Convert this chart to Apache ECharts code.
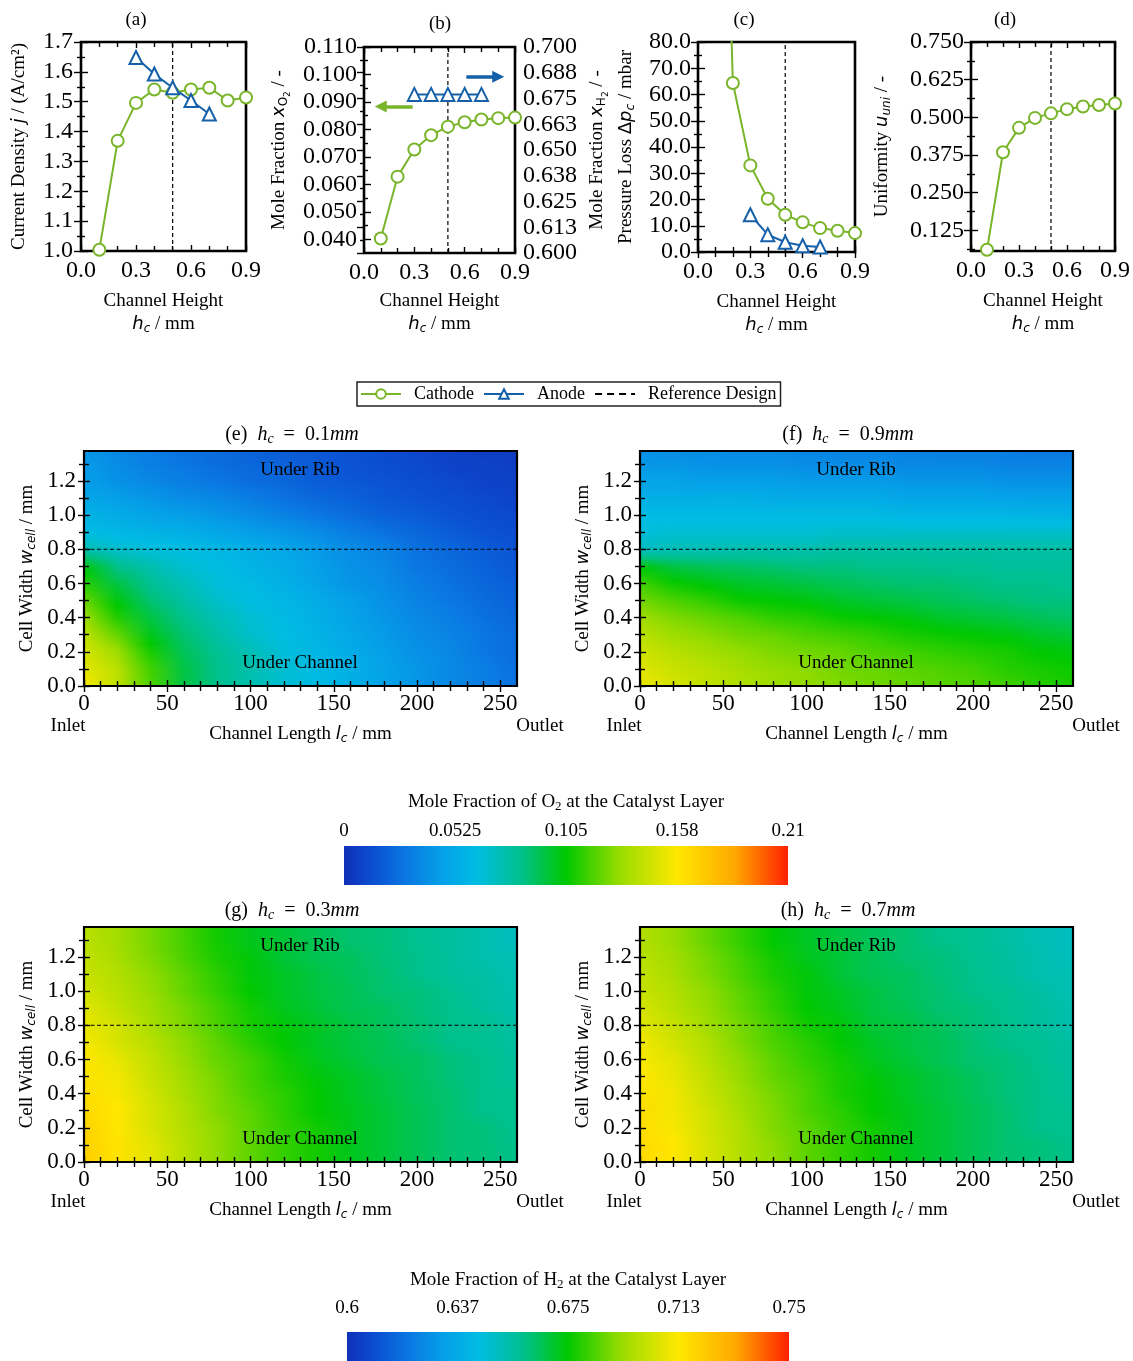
<!DOCTYPE html>
<html>
<head>
<meta charset="utf-8">
<script src="https://cdn.jsdelivr.net/npm/echarts@6/dist/echarts.min.js"></script>
<style>
html, body { margin: 0; padding: 0; background: #fff; }
#chart { width: 1133px; height: 1361px; }
</style>
</head>
<body>
<div id="chart"></div>
<script>
// ---------- parameter sweep over the cathode / anode channel height ----------
const channelHeightCathode = [0.1, 0.2, 0.3, 0.4, 0.5, 0.6, 0.7, 0.8, 0.9];
const channelHeightAnode = [0.3, 0.4, 0.5, 0.6, 0.7];
const referenceHeight = 0.5;

const currentDensityCathode = [1.004, 1.369, 1.496, 1.541, 1.530, 1.541, 1.547, 1.504, 1.514];
const currentDensityAnode = [1.648, 1.593, 1.547, 1.504, 1.459];
const moleFractionO2Cathode = [0.0403, 0.0628, 0.0727, 0.0779, 0.0810, 0.0826, 0.0836, 0.0841, 0.0843];
const moleFractionH2Anode = [0.677, 0.677, 0.677, 0.677, 0.677];
const pressureLossCathode = [280, 64.4, 33.0, 20.3, 14.2, 11.3, 9.1, 8.1, 7.2];
const pressureLossAnode = [14.2, 6.6, 3.7, 2.4, 1.9];
const uniformityCathode = [0.060, 0.384, 0.465, 0.498, 0.513, 0.527, 0.536, 0.541, 0.546];

// ---------- tick values and labels ----------
const heightTicks = [0, 0.3, 0.6, 0.9];
const heightTickLabels = ['0.0', '0.3', '0.6', '0.9'];
const heightMinorTicks = [0.1, 0.2, 0.4, 0.5, 0.7, 0.8];
const currentTicks = [1.0, 1.1, 1.2, 1.3, 1.4, 1.5, 1.6, 1.7];
const currentTickLabels = ['1.0', '1.1', '1.2', '1.3', '1.4', '1.5', '1.6', '1.7'];
const currentMinorTicks = [1.05, 1.15, 1.25, 1.35, 1.45, 1.55, 1.65];
const o2Ticks = [0.04, 0.05, 0.06, 0.07, 0.08, 0.09, 0.10, 0.11];
const o2TickLabels = ['0.040', '0.050', '0.060', '0.070', '0.080', '0.090', '0.100', '0.110'];
const o2MinorTicks = [0.045, 0.055, 0.065, 0.075, 0.085, 0.095, 0.105];
const h2Ticks = [0.6, 0.6125, 0.625, 0.6375, 0.65, 0.6625, 0.675, 0.6875, 0.7];
const h2TickLabels = ['0.600', '0.613', '0.625', '0.638', '0.650', '0.663', '0.675', '0.688', '0.700'];
const h2MinorTicks = [0.60625, 0.61875, 0.63125, 0.64375, 0.65625, 0.66875, 0.68125, 0.69375];
const pressureTicks = [0, 10, 20, 30, 40, 50, 60, 70, 80];
const pressureTickLabels = ['0.0', '10.0', '20.0', '30.0', '40.0', '50.0', '60.0', '70.0', '80.0'];
const pressureMinorTicks = [5, 15, 25, 35, 45, 55, 65, 75];
const uniformityTicks = [0.125, 0.25, 0.375, 0.5, 0.625, 0.75];
const uniformityTickLabels = ['0.125', '0.250', '0.375', '0.500', '0.625', '0.750'];
const uniformityMinorTicks = [0.0625, 0.1875, 0.3125, 0.4375, 0.5625, 0.6875];

const lengthTicks = [0, 50, 100, 150, 200, 250];
const lengthTickLabels = ['0', '50', '100', '150', '200', '250'];
const lengthMinorTicks = [10, 20, 30, 40, 60, 70, 80, 90, 110, 120, 130, 140, 160, 170, 180, 190, 210, 220, 230, 240];
const widthTicks = [0, 0.2, 0.4, 0.6, 0.8, 1.0, 1.2];
const widthTickLabels = ['0.0', '0.2', '0.4', '0.6', '0.8', '1.0', '1.2'];
const widthMinorTicks = [0.1, 0.3, 0.5, 0.7, 0.9, 1.1, 1.3];
const ribEdgeWidth = 0.8;

const o2BarTicks = [0, 0.0525, 0.105, 0.1575, 0.21];
const o2BarLabels = ['0', '0.0525', '0.105', '0.158', '0.21'];
const h2BarTicks = [0.6, 0.6375, 0.675, 0.7125, 0.75];
const h2BarLabels = ['0.6', '0.637', '0.675', '0.713', '0.75'];

// ---------- catalyst-layer fields: rows = cell width, columns = channel length ----------
const channelLengthNodes = [0, 20, 40, 60, 80, 100, 120, 140, 160, 180, 200, 220, 240, 260];
const cellWidthNodes = [0, 0.1, 0.2, 0.3, 0.4, 0.5, 0.6, 0.7, 0.8, 0.9, 1.0, 1.1, 1.2, 1.3, 1.375];

const o2FieldHc01 = [
  [0.155, 0.141, 0.118, 0.095, 0.084, 0.076, 0.067, 0.061, 0.055, 0.048, 0.042, 0.036, 0.032, 0.027],
  [0.151, 0.139, 0.116, 0.095, 0.084, 0.076, 0.067, 0.061, 0.055, 0.048, 0.042, 0.036, 0.032, 0.027],
  [0.147, 0.132, 0.109, 0.092, 0.082, 0.074, 0.065, 0.059, 0.053, 0.046, 0.040, 0.036, 0.029, 0.025],
  [0.141, 0.122, 0.101, 0.088, 0.078, 0.069, 0.063, 0.057, 0.050, 0.044, 0.038, 0.034, 0.029, 0.025],
  [0.132, 0.111, 0.095, 0.084, 0.074, 0.067, 0.061, 0.055, 0.048, 0.042, 0.036, 0.032, 0.027, 0.023],
  [0.122, 0.103, 0.088, 0.078, 0.069, 0.063, 0.059, 0.053, 0.046, 0.040, 0.034, 0.029, 0.025, 0.021],
  [0.111, 0.095, 0.082, 0.074, 0.065, 0.061, 0.055, 0.048, 0.042, 0.038, 0.032, 0.027, 0.023, 0.019],
  [0.103, 0.084, 0.076, 0.067, 0.063, 0.057, 0.053, 0.046, 0.040, 0.036, 0.029, 0.025, 0.021, 0.017],
  [0.076, 0.069, 0.065, 0.063, 0.059, 0.055, 0.050, 0.044, 0.038, 0.034, 0.027, 0.023, 0.019, 0.015],
  [0.063, 0.059, 0.057, 0.055, 0.050, 0.046, 0.042, 0.038, 0.032, 0.027, 0.023, 0.019, 0.015, 0.013],
  [0.057, 0.053, 0.048, 0.046, 0.042, 0.038, 0.034, 0.029, 0.025, 0.021, 0.019, 0.015, 0.013, 0.011],
  [0.050, 0.046, 0.042, 0.038, 0.036, 0.032, 0.027, 0.023, 0.021, 0.017, 0.015, 0.013, 0.011, 0.008],
  [0.046, 0.040, 0.036, 0.032, 0.029, 0.025, 0.023, 0.019, 0.017, 0.015, 0.013, 0.011, 0.008, 0.008],
  [0.044, 0.038, 0.032, 0.029, 0.025, 0.023, 0.021, 0.017, 0.015, 0.013, 0.011, 0.008, 0.008, 0.006],
  [0.042, 0.036, 0.032, 0.027, 0.025, 0.021, 0.019, 0.017, 0.015, 0.013, 0.011, 0.008, 0.006, 0.006]
];

const o2FieldHc09 = [
  [0.153, 0.147, 0.141, 0.137, 0.132, 0.130, 0.126, 0.124, 0.122, 0.120, 0.118, 0.116, 0.111, 0.109],
  [0.149, 0.143, 0.139, 0.134, 0.130, 0.128, 0.124, 0.122, 0.120, 0.118, 0.116, 0.111, 0.109, 0.107],
  [0.145, 0.139, 0.134, 0.130, 0.126, 0.124, 0.122, 0.118, 0.116, 0.113, 0.111, 0.109, 0.105, 0.103],
  [0.139, 0.132, 0.128, 0.124, 0.122, 0.118, 0.116, 0.113, 0.109, 0.107, 0.105, 0.103, 0.099, 0.097],
  [0.132, 0.126, 0.122, 0.118, 0.113, 0.111, 0.107, 0.105, 0.103, 0.099, 0.097, 0.095, 0.092, 0.090],
  [0.124, 0.118, 0.113, 0.107, 0.105, 0.103, 0.099, 0.097, 0.095, 0.092, 0.090, 0.088, 0.086, 0.086],
  [0.116, 0.107, 0.103, 0.099, 0.097, 0.095, 0.092, 0.090, 0.088, 0.088, 0.086, 0.084, 0.084, 0.082],
  [0.103, 0.095, 0.092, 0.090, 0.088, 0.086, 0.086, 0.084, 0.084, 0.082, 0.082, 0.080, 0.080, 0.080],
  [0.071, 0.074, 0.074, 0.076, 0.076, 0.076, 0.078, 0.078, 0.078, 0.078, 0.078, 0.078, 0.078, 0.078],
  [0.065, 0.067, 0.067, 0.067, 0.067, 0.067, 0.069, 0.069, 0.069, 0.069, 0.069, 0.069, 0.069, 0.069],
  [0.061, 0.061, 0.061, 0.061, 0.061, 0.061, 0.061, 0.061, 0.059, 0.059, 0.059, 0.059, 0.057, 0.057],
  [0.055, 0.055, 0.055, 0.055, 0.053, 0.053, 0.053, 0.053, 0.050, 0.050, 0.050, 0.048, 0.048, 0.048],
  [0.048, 0.048, 0.046, 0.046, 0.046, 0.044, 0.044, 0.044, 0.042, 0.042, 0.042, 0.040, 0.040, 0.040],
  [0.042, 0.042, 0.040, 0.040, 0.040, 0.038, 0.038, 0.038, 0.036, 0.036, 0.036, 0.034, 0.034, 0.034],
  [0.040, 0.038, 0.038, 0.036, 0.036, 0.036, 0.034, 0.034, 0.034, 0.032, 0.032, 0.032, 0.029, 0.029]
];

const h2FieldHc03 = [
  [0.720, 0.714, 0.707, 0.699, 0.692, 0.686, 0.681, 0.677, 0.672, 0.669, 0.666, 0.663, 0.662, 0.660],
  [0.720, 0.714, 0.707, 0.699, 0.692, 0.686, 0.681, 0.677, 0.672, 0.669, 0.666, 0.663, 0.662, 0.660],
  [0.719, 0.713, 0.705, 0.698, 0.692, 0.686, 0.681, 0.677, 0.672, 0.669, 0.666, 0.663, 0.662, 0.659],
  [0.717, 0.713, 0.705, 0.698, 0.690, 0.686, 0.680, 0.675, 0.672, 0.669, 0.666, 0.663, 0.660, 0.659],
  [0.716, 0.711, 0.704, 0.696, 0.690, 0.684, 0.680, 0.675, 0.671, 0.668, 0.665, 0.663, 0.660, 0.659],
  [0.714, 0.710, 0.702, 0.695, 0.689, 0.683, 0.678, 0.674, 0.671, 0.668, 0.665, 0.662, 0.660, 0.657],
  [0.713, 0.708, 0.701, 0.693, 0.687, 0.683, 0.677, 0.672, 0.669, 0.666, 0.665, 0.662, 0.660, 0.657],
  [0.711, 0.705, 0.699, 0.692, 0.686, 0.680, 0.675, 0.671, 0.668, 0.666, 0.663, 0.660, 0.659, 0.656],
  [0.708, 0.704, 0.696, 0.690, 0.684, 0.678, 0.674, 0.671, 0.668, 0.665, 0.663, 0.660, 0.659, 0.656],
  [0.707, 0.701, 0.695, 0.689, 0.683, 0.677, 0.672, 0.669, 0.666, 0.665, 0.662, 0.660, 0.657, 0.654],
  [0.704, 0.699, 0.693, 0.687, 0.681, 0.675, 0.671, 0.668, 0.666, 0.663, 0.662, 0.659, 0.656, 0.654],
  [0.702, 0.698, 0.692, 0.686, 0.680, 0.674, 0.671, 0.668, 0.665, 0.663, 0.660, 0.657, 0.656, 0.653],
  [0.701, 0.696, 0.690, 0.684, 0.678, 0.674, 0.669, 0.666, 0.665, 0.662, 0.660, 0.657, 0.654, 0.653],
  [0.699, 0.695, 0.689, 0.683, 0.677, 0.672, 0.669, 0.666, 0.663, 0.662, 0.659, 0.657, 0.654, 0.651],
  [0.699, 0.695, 0.689, 0.683, 0.677, 0.672, 0.669, 0.666, 0.663, 0.662, 0.659, 0.657, 0.654, 0.651]
];

const h2FieldHc07 = [
  [0.717, 0.713, 0.705, 0.698, 0.692, 0.686, 0.681, 0.677, 0.672, 0.669, 0.666, 0.663, 0.662, 0.660],
  [0.717, 0.713, 0.705, 0.698, 0.692, 0.686, 0.681, 0.677, 0.672, 0.669, 0.666, 0.663, 0.662, 0.660],
  [0.716, 0.711, 0.704, 0.698, 0.690, 0.686, 0.681, 0.677, 0.672, 0.669, 0.666, 0.663, 0.660, 0.659],
  [0.716, 0.710, 0.704, 0.696, 0.690, 0.684, 0.680, 0.675, 0.672, 0.669, 0.666, 0.663, 0.660, 0.659],
  [0.714, 0.710, 0.702, 0.695, 0.689, 0.684, 0.678, 0.675, 0.671, 0.668, 0.665, 0.662, 0.660, 0.657],
  [0.713, 0.708, 0.701, 0.693, 0.687, 0.683, 0.678, 0.674, 0.671, 0.668, 0.665, 0.662, 0.660, 0.657],
  [0.711, 0.707, 0.699, 0.692, 0.686, 0.681, 0.677, 0.672, 0.669, 0.666, 0.663, 0.662, 0.659, 0.656],
  [0.710, 0.704, 0.698, 0.690, 0.684, 0.680, 0.675, 0.671, 0.668, 0.666, 0.663, 0.660, 0.659, 0.656],
  [0.707, 0.702, 0.695, 0.689, 0.683, 0.677, 0.674, 0.669, 0.668, 0.665, 0.662, 0.660, 0.657, 0.654],
  [0.705, 0.699, 0.693, 0.687, 0.681, 0.675, 0.672, 0.668, 0.666, 0.663, 0.662, 0.659, 0.657, 0.654],
  [0.702, 0.698, 0.692, 0.686, 0.680, 0.674, 0.671, 0.668, 0.665, 0.663, 0.660, 0.659, 0.656, 0.653],
  [0.701, 0.696, 0.690, 0.684, 0.678, 0.674, 0.669, 0.666, 0.665, 0.662, 0.660, 0.657, 0.654, 0.653],
  [0.699, 0.695, 0.689, 0.683, 0.677, 0.672, 0.669, 0.666, 0.663, 0.662, 0.659, 0.657, 0.654, 0.651],
  [0.698, 0.693, 0.687, 0.681, 0.675, 0.671, 0.668, 0.665, 0.663, 0.660, 0.659, 0.656, 0.653, 0.651],
  [0.698, 0.693, 0.687, 0.681, 0.675, 0.671, 0.668, 0.665, 0.663, 0.660, 0.659, 0.656, 0.653, 0.651]
];

// ---------- styling ----------
const SERIF = '"Liberation Serif", "Times New Roman", serif';
const SANS = '"DejaVu Sans", sans-serif';
const GREEN = '#79b52b';
const BLUE = '#1560a8';
const SHADE_STEPS = 10;

// rainbow colour scale shared by both field legends (offset -> colour)
const rainbowStops = [
  [0.00, '#1030b8'], [0.06, '#0b4cd0'], [0.14, '#0a78e2'], [0.22, '#05a0e8'],
  [0.30, '#00bde2'], [0.40, '#00c08c'], [0.50, '#00c800'], [0.62, '#98dc00'],
  [0.75, '#ffe800'], [0.88, '#ffa800'], [1.00, '#ff2000']
];
const rainbowRgb = rainbowStops.map(([o, h]) => [o, parseInt(h.slice(1, 3), 16), parseInt(h.slice(3, 5), 16), parseInt(h.slice(5, 7), 16)]);
function rainbow(t) {
  t = Math.max(0, Math.min(1, t));
  for (let k = 1; k < rainbowRgb.length; k++) {
    const a = rainbowRgb[k - 1], b = rainbowRgb[k];
    if (t <= b[0]) {
      const f = (t - a[0]) / (b[0] - a[0]);
      return 'rgb(' + [1, 2, 3].map(c => Math.round(a[c] + (b[c] - a[c]) * f)).join(',') + ')';
    }
  }
  const l = rainbowRgb[rainbowRgb.length - 1];
  return 'rgb(' + l[1] + ',' + l[2] + ',' + l[3] + ')';
}

const RICH = {
  t: { fontFamily: SERIF, fontSize: 19, color: '#000', lineHeight: 23 },
  i: { fontFamily: SANS, fontStyle: 'italic', fontSize: 18, color: '#000' },
  s: { fontFamily: SANS, fontStyle: 'italic', fontSize: 12, color: '#000', padding: [9, 0, 0, 0] },
  r: { fontFamily: SANS, fontSize: 12, color: '#000', padding: [9, 0, 0, 0] },
  rr: { fontFamily: SANS, fontSize: 9, color: '#000', padding: [16, 0, 0, 0] },
  g: { fontFamily: SANS, fontSize: 18, color: '#000' },
  sub: { fontFamily: SERIF, fontSize: 13, color: '#000', padding: [9, 0, 0, 0] },
  h: { fontFamily: SERIF, fontSize: 20, color: '#000' },
  m: { fontFamily: SERIF, fontStyle: 'italic', fontSize: 20, color: '#000' },
  ms: { fontFamily: SERIF, fontStyle: 'italic', fontSize: 14, color: '#000', padding: [9, 0, 0, 0] }
};

const option = {
  animation: false,
  backgroundColor: '#ffffff',
  textStyle: { fontFamily: SERIF, color: '#000' },
  grid: [], xAxis: [], yAxis: [], series: [], graphic: [],
  legend: {
    data: ['Cathode', 'Anode', { name: 'Reference Design', itemStyle: { opacity: 0 }, lineStyle: { width: 2.2, type: [7, 5] } }],
    left: 357, top: 382,
    padding: [3, 4, 3, 3],
    itemWidth: 40, itemHeight: 12, itemGap: 9,
    borderColor: '#222', borderWidth: 1.5, borderRadius: 0,
    selectedMode: false,
    textStyle: { fontFamily: SERIF, fontSize: 18, color: '#000', padding: [0, 0, 0, 8] }
  }
};

function tickAxis(gi, pos, min, max, ticks, len, extra) {
  return Object.assign({
    type: 'value', gridIndex: gi, position: pos, min: min, max: max, z: 5,
    axisLine: { show: false }, splitLine: { show: false }, minorTick: { show: false },
    axisTick: { show: true, inside: true, length: len, customValues: ticks, lineStyle: { color: '#000', width: 1.4 } },
    axisLabel: { show: false }
  }, extra || {});
}

function tickLabels(ticks, labels, size, margin) {
  return {
    show: true, customValues: ticks, margin: margin, color: '#000', fontFamily: SERIF, fontSize: size,
    formatter: function (v) {
      const k = ticks.findIndex(t => Math.abs(t - v) < 1e-9);
      return k < 0 ? '' : labels[k];
    }
  };
}

function axisName(text, gap) {
  return { name: text, nameLocation: 'middle', nameGap: gap, nameTextStyle: { rich: RICH, fontFamily: SERIF, fontSize: 19, color: '#000' } };
}

// framed plot with inward ticks on all four sides
function framedPanel(rect, frame, x, y, y2) {
  const gi = option.grid.length;
  option.grid.push({ left: rect[0], top: rect[1], width: rect[2], height: rect[3], show: true, z: 5,
    borderColor: '#000', borderWidth: frame, backgroundColor: 'rgba(0,0,0,0)' });
  const xi = option.xAxis.length;
  option.xAxis.push(tickAxis(gi, 'bottom', x.min, x.max, x.major, x.len,
    Object.assign({ axisLabel: tickLabels(x.major, x.labels, x.size, x.margin) }, axisName(x.name, x.gap))));
  option.xAxis.push(tickAxis(gi, 'bottom', x.min, x.max, x.minor, x.minorLen));
  option.xAxis.push(tickAxis(gi, 'top', x.min, x.max, x.major, x.len));
  option.xAxis.push(tickAxis(gi, 'top', x.min, x.max, x.minor, x.minorLen));
  const yi = option.yAxis.length;
  option.yAxis.push(tickAxis(gi, 'left', y.min, y.max, y.major, y.len,
    Object.assign({ axisLabel: tickLabels(y.major, y.labels, y.size, y.margin) }, axisName(y.name, y.gap), { nameRotate: 90 })));
  option.yAxis.push(tickAxis(gi, 'left', y.min, y.max, y.minor, y.minorLen));
  let yi2 = null;
  if (y2) {
    yi2 = option.yAxis.length;
    option.yAxis.push(tickAxis(gi, 'right', y2.min, y2.max, y2.major, y2.len,
      Object.assign({ axisLabel: tickLabels(y2.major, y2.labels, y2.size, y2.margin) }, axisName(y2.name, y2.gap), { nameRotate: 90 })));
    option.yAxis.push(tickAxis(gi, 'right', y2.min, y2.max, y2.minor, y2.minorLen));
  } else {
    option.yAxis.push(tickAxis(gi, 'right', y.min, y.max, y.major, y.len));
    option.yAxis.push(tickAxis(gi, 'right', y.min, y.max, y.minor, y.minorLen));
  }
  return { gi: gi, xi: xi, yi: yi, yi2: yi2 };
}

function curve(name, xs, ys, color, symbol, size, p, yIndex) {
  return {
    type: 'line', name: name, xAxisIndex: p.xi, yAxisIndex: yIndex == null ? p.yi : yIndex,
    data: xs.map((x, k) => [x, ys[k]]), symbol: symbol, symbolSize: size, showAllSymbol: true,
    clip: true, z: 6, color: color,
    lineStyle: { color: color, width: 2 },
    itemStyle: { color: color, borderColor: color, borderWidth: 2 }
  };
}

function referenceLine(p, yMin, yMax) {
  return {
    type: 'line', name: 'Reference Design', xAxisIndex: p.xi, yAxisIndex: p.yi,
    data: [[referenceHeight, yMin], [referenceHeight, yMax]], symbol: 'none', z: 4, color: '#000',
    lineStyle: { color: '#000', width: 1.2, type: [4, 3] }
  };
}

const heightAxis = {
  min: 0, max: 0.9, major: heightTicks, labels: heightTickLabels, minor: heightMinorTicks,
  len: 6, minorLen: 5, size: 24, margin: 8, gap: 39,
  name: '{t|Channel Height}\n{i|h}{s|c}{t| / mm}'
};

// (a) current density
const pA = framedPanel([81, 42, 165, 209], 2.6, heightAxis,
  { min: 1.0, max: 1.7, major: currentTicks, labels: currentTickLabels, minor: currentMinorTicks, len: 7, minorLen: 4, size: 24, margin: 8, gap: 50,
    name: '{t|Current Density }{i|j}{t| / (A/cm²)}' });
option.series.push(referenceLine(pA, 1.0, 1.7));
option.series.push(curve('Cathode', channelHeightCathode, currentDensityCathode, GREEN, 'emptyCircle', 12, pA));
option.series.push(curve('Anode', channelHeightAnode, currentDensityAnode, BLUE, 'emptyTriangle', 13, pA));

// (b) mole fractions, O2 on the left axis, H2 on the right axis
const pB = framedPanel([364, 47, 151, 206], 2.6, Object.assign({}, heightAxis, { gap: 37 }),
  { min: 0.035, max: 0.110, major: o2Ticks, labels: o2TickLabels, minor: o2MinorTicks, len: 7, minorLen: 4, size: 24, margin: 7, gap: 72,
    name: '{t|Mole Fraction }{i|x}{r|O}{rr|2}{t| / -}' },
  { min: 0.6, max: 0.7, major: h2Ticks, labels: h2TickLabels, minor: h2MinorTicks, len: 7, minorLen: 4, size: 24, margin: 8, gap: 70,
    name: '{t|Mole Fraction }{i|x}{r|H}{rr|2}{t| / -}' });
option.series.push(referenceLine(pB, 0.035, 0.110));
const o2Curve = curve('Cathode', channelHeightCathode, moleFractionO2Cathode, GREEN, 'emptyCircle', 12, pB);
o2Curve.markLine = {
  silent: true, symbol: ['none', 'triangle'], symbolSize: [12, 12], label: { show: false },
  lineStyle: { color: GREEN, width: 3.5, type: 'solid' },
  data: [[{ coord: [0.29, 0.0883] }, { coord: [0.10, 0.0883] }]]
};
option.series.push(o2Curve);
const h2Curve = curve('Anode', channelHeightAnode, moleFractionH2Anode, BLUE, 'emptyTriangle', 13, pB, pB.yi2);
h2Curve.markLine = {
  silent: true, symbol: ['none', 'triangle'], symbolSize: [12, 12], label: { show: false },
  lineStyle: { color: BLUE, width: 3.5, type: 'solid' },
  data: [[{ coord: [0.61, 0.6855] }, { coord: [0.80, 0.6855] }]]
};
option.series.push(h2Curve);

// (c) pressure loss
const pC = framedPanel([698, 42, 157, 210], 2.6, heightAxis,
  { min: 0, max: 80, major: pressureTicks, labels: pressureTickLabels, minor: pressureMinorTicks, len: 7, minorLen: 4, size: 24, margin: 7, gap: 60,
    name: '{t|Pressure Loss }{g|Δ}{i|p}{s|c}{t| / mbar}' });
option.series.push(referenceLine(pC, 0, 80));
option.series.push(curve('Cathode', channelHeightCathode, pressureLossCathode, GREEN, 'emptyCircle', 12, pC));
option.series.push(curve('Anode', channelHeightAnode, pressureLossAnode, BLUE, 'emptyTriangle', 13, pC));

// (d) uniformity
const pD = framedPanel([971, 42, 144, 209], 2.6, heightAxis,
  { min: 0.056, max: 0.75, major: uniformityTicks, labels: uniformityTickLabels, minor: uniformityMinorTicks, len: 7, minorLen: 4, size: 24, margin: 7, gap: 77,
    name: '{t|Uniformity }{i|u}{s|uni}{t| / -}' });
option.series.push(referenceLine(pD, 0.056, 0.75));
option.series.push(curve('Cathode', channelHeightCathode, uniformityCathode, GREEN, 'emptyCircle', 12, pD));

// ---------- field maps ----------
const lengthAxis = {
  min: 0, max: 260, major: lengthTicks, labels: lengthTickLabels, minor: lengthMinorTicks,
  len: 6, minorLen: 5, size: 23, margin: 6, gap: 37,
  name: '{t|Channel Length }{i|l}{s|c}{t| / mm}'
};
const widthAxis = {
  min: 0, max: 1.375, major: widthTicks, labels: widthTickLabels, minor: widthMinorTicks,
  len: 6, minorLen: 5, size: 23, margin: 8, gap: 45,
  name: '{t|Cell Width }{i|w}{s|cell}{t| / mm}'
};

// each band between two cell-width rows is shaded along the channel length
// and blended across the width in thin steps
function fieldSeries(p, rows, vmin, vmax) {
  const x0 = channelLengthNodes[0];
  const xLast = channelLengthNodes[channelLengthNodes.length - 1];
  return {
    type: 'custom', xAxisIndex: p.xi, yAxisIndex: p.yi, z: 1, silent: true, clip: true,
    data: cellWidthNodes.slice(0, -1).map(w => [x0, w]),
    encode: { x: 0, y: 1 },
    renderItem: function (params, api) {
      const i = params.dataIndex;
      const w0 = cellWidthNodes[i], w1 = cellWidthNodes[i + 1];
      const lower = rows[i], upper = rows[i + 1];
      const children = [];
      for (let j = 0; j < SHADE_STEPS; j++) {
        const f = (j + 0.5) / SHADE_STEPS;
        const a = api.coord([x0, w0 + (w1 - w0) * (j + 1) / SHADE_STEPS]);
        const b = api.coord([xLast, w0 + (w1 - w0) * j / SHADE_STEPS]);
        const stops = lower.map((v, k) => ({
          offset: (channelLengthNodes[k] - x0) / (xLast - x0),
          color: rainbow(((1 - f) * v + f * upper[k] - vmin) / (vmax - vmin))
        }));
        children.push({
          type: 'rect',
          shape: { x: a[0], y: a[1] - 0.4, width: b[0] - a[0], height: b[1] - a[1] + 0.8 },
          style: { fill: new echarts.graphic.LinearGradient(0, 0, 1, 0, stops) }
        });
      }
      return { type: 'group', children: children };
    }
  };
}

function ribEdge(p) {
  return {
    type: 'line', name: 'Rib Edge', xAxisIndex: p.xi, yAxisIndex: p.yi, silent: true,
    data: [[0, ribEdgeWidth], [260, ribEdgeWidth]], symbol: 'none', z: 6,
    lineStyle: { color: '#000', width: 1, type: [4, 2.5] }
  };
}

const fieldPanels = [
  { rect: [84, 451, 433, 235], rows: o2FieldHc01, vmin: 0, vmax: 0.21 },
  { rect: [640, 451, 433, 235], rows: o2FieldHc09, vmin: 0, vmax: 0.21 },
  { rect: [84, 927, 433, 235], rows: h2FieldHc03, vmin: 0.6, vmax: 0.75 },
  { rect: [640, 927, 433, 235], rows: h2FieldHc07, vmin: 0.6, vmax: 0.75 }
];
fieldPanels.forEach(f => {
  const p = framedPanel(f.rect, 2.2, lengthAxis, widthAxis);
  option.series.push(fieldSeries(p, f.rows, f.vmin, f.vmax));
  option.series.push(ribEdge(p));
});

// ---------- colour bars ----------
function colourBar(rect, min, max, ticks, labels, title, gap, margin) {
  const gi = option.grid.length;
  option.grid.push({ left: rect[0], top: rect[1], width: rect[2], height: rect[3], show: false });
  const xi = option.xAxis.length;
  option.xAxis.push({
    type: 'value', gridIndex: gi, position: 'top', min: min, max: max,
    axisLine: { show: false }, axisTick: { show: false }, splitLine: { show: false },
    axisLabel: tickLabels(ticks, labels, 19, margin),
    name: title, nameLocation: 'middle', nameGap: gap,
    nameTextStyle: { rich: RICH, fontFamily: SERIF, fontSize: 19, color: '#000' }
  });
  const yi = option.yAxis.length;
  option.yAxis.push({ type: 'value', gridIndex: gi, min: 0, max: 1, show: false });
  option.series.push({
    type: 'custom', xAxisIndex: xi, yAxisIndex: yi, silent: true,
    data: [[min, max]],
    renderItem: function (params, api) {
      const a = api.coord([api.value(0), 0]);
      const b = api.coord([api.value(1), 1]);
      return {
        type: 'rect',
        shape: { x: a[0], y: b[1], width: b[0] - a[0], height: a[1] - b[1] },
        style: { fill: new echarts.graphic.LinearGradient(0, 0, 1, 0, rainbowStops.map(([o, c]) => ({ offset: o, color: c }))) }
      };
    }
  });
}
colourBar([344, 846, 444, 39], 0, 0.21, o2BarTicks, o2BarLabels,
  '{t|Mole Fraction of O}{sub|2}{t| at the Catalyst Layer}', 32, 5);
colourBar([347, 1332, 442, 40], 0.6, 0.75, h2BarTicks, h2BarLabels,
  '{t|Mole Fraction of H}{sub|2}{t| at the Catalyst Layer}', 40, 14);

// ---------- titles and annotations ----------
function label(text, x, y, size) {
  option.graphic.push({
    type: 'text', x: x, y: y, z: 10, silent: true,
    style: { text: text, rich: RICH, fontFamily: SERIF, fontSize: size || 19, fill: '#000', align: 'center', verticalAlign: 'middle' }
  });
}
label('(a)', 136, 20); label('(b)', 440, 24); label('(c)', 744, 20); label('(d)', 1005, 20);
label('{h|(e)  }{m|h}{ms|c}{h|  =  0.1}{m|mm}', 292, 435);
label('{h|(f)  }{m|h}{ms|c}{h|  =  0.9}{m|mm}', 848, 435);
label('{h|(g)  }{m|h}{ms|c}{h|  =  0.3}{m|mm}', 292, 911);
label('{h|(h)  }{m|h}{ms|c}{h|  =  0.7}{m|mm}', 848, 911);
[[300, 0], [856, 0], [300, 476], [856, 476]].forEach(([cx, dy]) => {
  label('Under Rib', cx, 470 + dy);
  label('Under Channel', cx, 663 + dy);
});
[[68, 540, 726], [624, 1096, 726], [68, 540, 1202], [624, 1096, 1202]].forEach(([xi, xo, y]) => {
  label('Inlet', xi, y);
  label('Outlet', xo, y);
});

const chart = echarts.init(document.getElementById('chart'), null, { renderer: 'canvas', width: 1133, height: 1361 });
chart.setOption(option);
</script>
</body>
</html>
